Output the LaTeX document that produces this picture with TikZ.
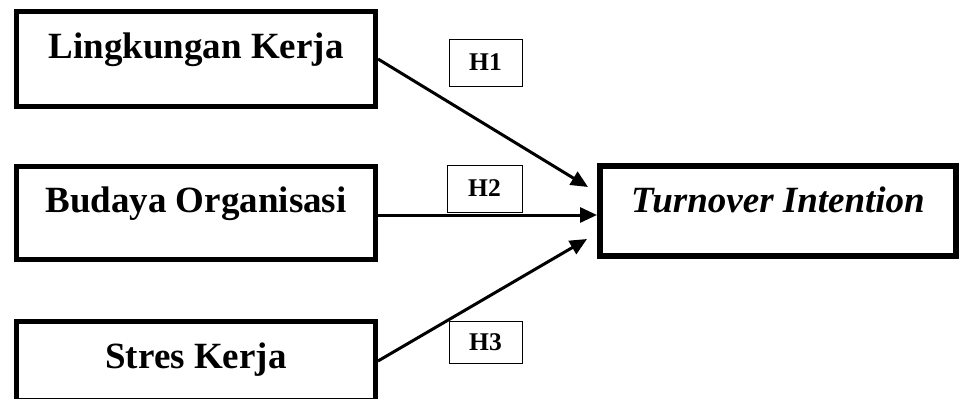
\documentclass[tikz,border=0pt]{standalone}
\usepackage{fontspec}
\setmainfont{Liberation Serif}
\usetikzlibrary{arrows.meta}
\begin{document}
\begin{tikzpicture}[x=1pt,y=-1pt,
  varbox/.style={draw, line width=5pt, inner sep=0pt, fill=none},
  outbox/.style={draw, line width=6pt, inner sep=0pt},
  hbox/.style={draw, line width=1pt, inner sep=0pt, font=\fontsize{25.5}{27}\selectfont\bfseries},
  vartext/.style={anchor=base, inner sep=0pt, font=\fontsize{37}{40}\selectfont\bfseries},
  link/.style={line width=3pt, -{Triangle[length=17pt,width=15pt]}}
]
\useasboundingbox (0,0) rectangle (959,399);
% boxes
\node[varbox, minimum width=359pt, minimum height=95pt] (lk) at (196,59) {};
\node[varbox, minimum width=359pt, minimum height=93pt] (bo) at (196,213) {};
\node[varbox, minimum width=359pt, minimum height=79pt] (sk) at (196,361) {};
\node[outbox, minimum width=356pt, minimum height=90pt] (ti) at (778,211) {};
% texts
\node[vartext] (lkt) at (196,58) {Lingkungan Kerja};
\node[vartext] (bot) at (196,212) {Budaya Organisasi};
\node[vartext] (skt) at (196,368) {Stres Kerja};
\node[vartext, font=\fontsize{37}{40}\selectfont\bfseries\itshape] (tit) at (778,212) {Turnover Intention};
% hypothesis labels
\node[hbox, minimum width=73pt, minimum height=47pt] (h1) at (485.5,62.5) {H1};
\node[hbox, minimum width=75pt, minimum height=47pt] (h2) at (484.5,188.5) {H2};
\node[hbox, minimum width=73pt, minimum height=42pt] (h3) at (485.5,342) {H3};
% arrow ends
\coordinate (e1) at (588,187);
\coordinate (e3) at (587,239);
% connectors
\draw[link] (lk.east) -- (e1);
\draw[link] ([yshift=-2pt]bo.east) -- ([yshift=-2pt]ti.west |- bo.east);
\draw[link] (sk.east) -- (e3);
\end{tikzpicture}
\end{document}
